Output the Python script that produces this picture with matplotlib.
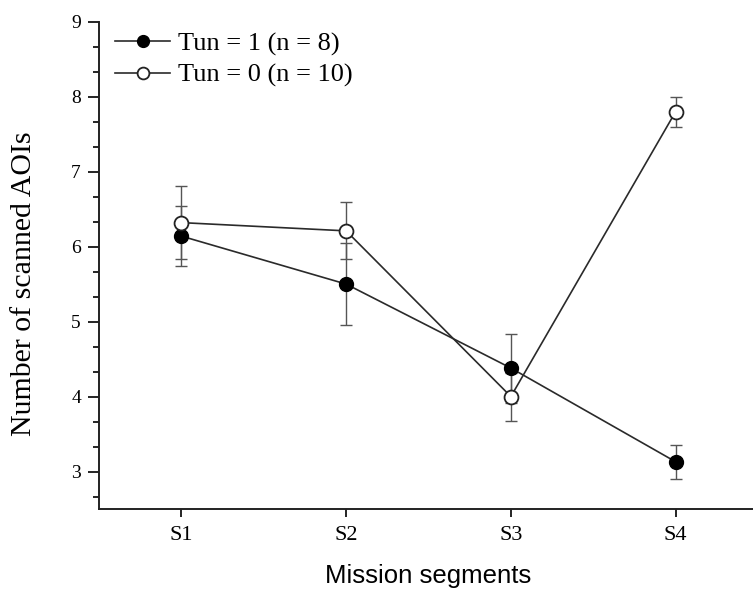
import matplotlib
matplotlib.use("Agg")
import matplotlib.pyplot as plt
from matplotlib.ticker import FixedLocator

segments = ["S1", "S2", "S3", "S4"]
tun1_mean = [6.14, 5.50, 4.38, 3.13]
tun1_err = [0.40, 0.55, 0.46, 0.23]
tun0_mean = [6.32, 6.21, 4.00, 7.80]
tun0_err = [0.49, 0.38, 0.32, 0.20]
labels = ["Tun = 1 (n = 8)", "Tun = 0 (n = 10)"]

serif = ["Liberation Serif", "DejaVu Serif"]
sans = ["Liberation Sans", "DejaVu Sans"]

fig = plt.figure(figsize=(7.53, 5.93), dpi=100)
ax = fig.add_axes([99/753, (593-509)/593, (758-99)/753, (509-21.7)/593])

x = list(range(1, len(segments) + 1))
line_col = "#2a2a2a"
err_col = "#555555"

ax.errorbar(x, tun1_mean, yerr=tun1_err, fmt="none", ecolor=err_col,
            elinewidth=1.0, capsize=4, capthick=1.0, zorder=2)
ax.errorbar(x, tun0_mean, yerr=tun0_err, fmt="none", ecolor=err_col,
            elinewidth=1.0, capsize=4, capthick=1.0, zorder=2)
ax.plot(x, tun1_mean, "-o", color=line_col, lw=1.2, markersize=10,
        markerfacecolor="black", markeredgecolor="black", label=labels[0], zorder=3)
ax.plot(x, tun0_mean, "-o", color=line_col, lw=1.2, markersize=10,
        markerfacecolor="white", markeredgecolor="#222222", markeredgewidth=1.3,
        label=labels[1], zorder=4)

ax.set_xlim(0.5, 4.5)
ax.set_ylim(2.5, 9)
ax.set_xticks(x)
ax.set_xticklabels(segments, fontfamily=serif, fontsize=16)
ax.yaxis.set_major_locator(FixedLocator([3, 4, 5, 6, 7, 8, 9]))
ax.yaxis.set_minor_locator(FixedLocator([2 + k/3 for k in range(2, 22) if k % 3 != 0]))
for lab in ax.get_yticklabels():
    lab.set_fontfamily(serif)
    lab.set_fontsize(14)

ax.tick_params(axis="y", which="major", direction="out", length=8, width=1.2, pad=5)
ax.tick_params(axis="y", which="minor", direction="out", length=4.5, width=1.2)
ax.tick_params(axis="x", which="major", direction="out", length=6, width=1.2, pad=6)

for s in ["top", "right"]:
    ax.spines[s].set_visible(False)
for s in ["left", "bottom"]:
    ax.spines[s].set_linewidth(1.4)
    ax.spines[s].set_color("#222222")

ax.set_ylabel("Number of scanned AOIs", fontfamily=serif, fontsize=21.5)
ax.yaxis.set_label_coords(-0.094, 0.462)
ax.set_xlabel("Mission segments", fontfamily=sans, fontsize=18.5, labelpad=14)

leg = ax.legend(loc="upper left", bbox_to_anchor=(0.02, 0.985), frameon=False,
                prop={"family": serif, "size": 19}, handlelength=2.1,
                handletextpad=0.3, labelspacing=0.3, borderaxespad=0.0,
                borderpad=0.1, markerscale=0.85)

fig.savefig("out.png", dpi=100)
